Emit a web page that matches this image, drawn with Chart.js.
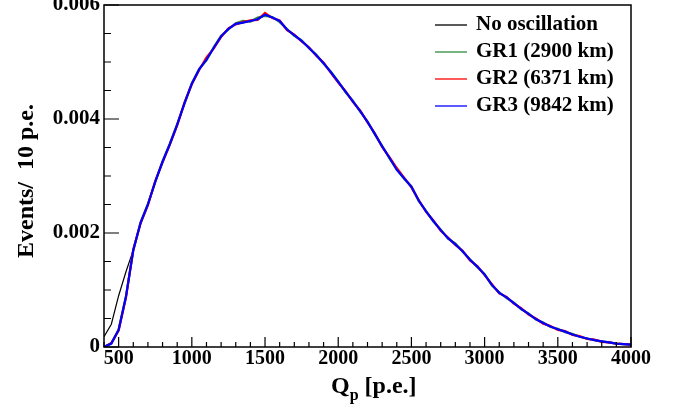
<!DOCTYPE html>
<html>
<head>
<meta charset="utf-8">
<script src="https://cdn.jsdelivr.net/npm/chart.js@4.4.1/dist/chart.umd.min.js"></script>
<style>
  html, body { margin: 0; padding: 0; background: #fff; }
  #wrap { width: 678px; height: 417px; }
</style>
</head>
<body>
<div id="wrap"><canvas id="qp-chart"></canvas></div>
<script>
// Q_p bin centres (p.e.)
var qValues = [400, 450, 500, 550, 600, 650, 700, 750, 800, 850,
  900, 950, 1000, 1050, 1100, 1150, 1200, 1250, 1300, 1350,
  1400, 1450, 1500, 1550, 1600, 1650, 1700, 1750, 1800, 1850,
  1900, 1950, 2000, 2050, 2100, 2150, 2200, 2250, 2300, 2350,
  2400, 2450, 2500, 2550, 2600, 2650, 2700, 2750, 2800, 2850,
  2900, 2950, 3000, 3050, 3100, 3150, 3200, 3250, 3300, 3350,
  3400, 3450, 3500, 3550, 3600, 3650, 3700, 3750, 3800, 3850,
  3900, 3950, 4000];

var noOsc = [0.00018, 0.00040, 0.00090, 0.00132, 0.00170, 0.00218, 0.00250, 0.00290, 0.00325, 0.00356,
  0.00390, 0.00428, 0.00462, 0.00487, 0.00504, 0.00525, 0.00545, 0.00558, 0.00567, 0.00569,
  0.00572, 0.00575, 0.00582, 0.00578, 0.00572, 0.00557, 0.00547, 0.00537, 0.00525, 0.00512,
  0.00498, 0.00482, 0.00465, 0.00448, 0.00431, 0.00414, 0.00395, 0.00374, 0.00352, 0.00332,
  0.00311, 0.00296, 0.00281, 0.00257, 0.00238, 0.00221, 0.00205, 0.00191, 0.00180, 0.00168,
  0.00153, 0.00141, 0.00127, 0.00109, 0.00095, 0.00087, 0.00077, 0.00067, 0.00058, 0.00049,
  0.00042, 0.00036, 0.00031, 0.00027, 0.00022, 0.00018, 0.00015, 0.00012, 0.00010, 0.00008,
  0.00006, 0.00005, 0.00004];

var gr1 = [0.00000, 0.00006, 0.00031, 0.00089, 0.00169, 0.00219, 0.00251, 0.00289, 0.00326, 0.00357,
  0.00391, 0.00427, 0.00463, 0.00488, 0.00503, 0.00526, 0.00546, 0.00557, 0.00568, 0.00572,
  0.00571, 0.00578, 0.00581, 0.00579, 0.00570, 0.00558, 0.00546, 0.00538, 0.00524, 0.00513,
  0.00497, 0.00483, 0.00466, 0.00447, 0.00432, 0.00413, 0.00396, 0.00373, 0.00353, 0.00331,
  0.00312, 0.00295, 0.00282, 0.00256, 0.00239, 0.00220, 0.00206, 0.00190, 0.00182, 0.00167,
  0.00154, 0.00140, 0.00128, 0.00108, 0.00096, 0.00086, 0.00078, 0.00066, 0.00059, 0.00048,
  0.00043, 0.00035, 0.00032, 0.00026, 0.00023, 0.00018, 0.00015, 0.00012, 0.00010, 0.00008,
  0.00006, 0.00005, 0.00004];

var gr2 = [0.00000, 0.00007, 0.00029, 0.00087, 0.00171, 0.00217, 0.00249, 0.00291, 0.00324, 0.00355,
  0.00389, 0.00429, 0.00461, 0.00486, 0.00508, 0.00524, 0.00544, 0.00559, 0.00566, 0.00570,
  0.00573, 0.00574, 0.00586, 0.00577, 0.00573, 0.00556, 0.00548, 0.00536, 0.00526, 0.00511,
  0.00499, 0.00481, 0.00464, 0.00449, 0.00430, 0.00415, 0.00394, 0.00375, 0.00351, 0.00333,
  0.00314, 0.00297, 0.00280, 0.00258, 0.00237, 0.00222, 0.00204, 0.00192, 0.00179, 0.00169,
  0.00152, 0.00142, 0.00126, 0.00110, 0.00094, 0.00088, 0.00076, 0.00068, 0.00057, 0.00050,
  0.00041, 0.00037, 0.00030, 0.00028, 0.00021, 0.00019, 0.00014, 0.00013, 0.00009, 0.00008,
  0.00006, 0.00005, 0.00004];

var gr3 = [0.00000, 0.00006, 0.00030, 0.00088, 0.00170, 0.00218, 0.00250, 0.00290, 0.00325, 0.00356,
  0.00390, 0.00428, 0.00462, 0.00487, 0.00504, 0.00525, 0.00545, 0.00558, 0.00567, 0.00569,
  0.00572, 0.00575, 0.00583, 0.00578, 0.00572, 0.00557, 0.00547, 0.00537, 0.00525, 0.00512,
  0.00498, 0.00482, 0.00465, 0.00448, 0.00431, 0.00414, 0.00395, 0.00374, 0.00352, 0.00332,
  0.00311, 0.00296, 0.00281, 0.00257, 0.00238, 0.00221, 0.00205, 0.00191, 0.00180, 0.00168,
  0.00153, 0.00141, 0.00127, 0.00109, 0.00095, 0.00087, 0.00077, 0.00067, 0.00058, 0.00049,
  0.00042, 0.00036, 0.00031, 0.00027, 0.00022, 0.00018, 0.00015, 0.00012, 0.00010, 0.00008,
  0.00006, 0.00005, 0.00004];

var seriesLabels = ["No oscillation", "GR1 (2900 km)", "GR2 (6371 km)", "GR3 (9842 km)"];
var seriesColors = ["#000000", "#2e8b3a", "#ff0000", "#0000ff"];
var xTickValues = [500, 1000, 1500, 2000, 2500, 3000, 3500, 4000];
var yTickValues = [0, 0.002, 0.004, 0.006];

var serif = "'Liberation Serif', 'Times New Roman', serif";

function points(ys) {
  return qValues.map(function (q, i) { return { x: q, y: ys[i] }; });
}

// ROOT style frame, inward ticks, titles and legend
var rootFrame = {
  id: 'rootFrame',
  afterDraw: function (chart) {
    var ctx = chart.ctx;
    var a = chart.chartArea;
    var xs = chart.scales.x, ys = chart.scales.y;
    ctx.save();
    ctx.strokeStyle = '#000';
    ctx.lineWidth = 1.5;
    ctx.strokeRect(a.left, a.top, a.right - a.left, a.bottom - a.top);

    ctx.lineWidth = 1.2;
    ctx.beginPath();
    for (var q = 400; q <= 4000; q += 100) {
      var px = xs.getPixelForValue(q);
      var len = (q % 500 === 0) ? 10 : 5;
      ctx.moveTo(px, a.bottom);
      ctx.lineTo(px, a.bottom - len);
    }
    for (var v = 0; v <= 0.0060001; v += 0.0005) {
      var py = ys.getPixelForValue(v);
      var major = Math.abs(v / 0.002 - Math.round(v / 0.002)) < 1e-6;
      ctx.moveTo(a.left, py);
      ctx.lineTo(a.left + (major ? 15 : 7), py);
    }
    ctx.stroke();

    // axis titles
    ctx.fillStyle = '#000';
    ctx.font = 'bold 24px ' + serif;
    ctx.textBaseline = 'alphabetic';
    ctx.save();
    ctx.translate(33, 181);
    ctx.rotate(-Math.PI / 2);
    ctx.textAlign = 'center';
    ctx.fillText('Events/  10 p.e.', 0, 0);
    ctx.restore();

    ctx.textAlign = 'left';
    var tx = 331, ty = 393;
    ctx.fillText('Q', tx, ty);
    tx += ctx.measureText('Q').width;
    ctx.font = 'bold 16px ' + serif;
    ctx.fillText('p', tx, ty + 7);
    tx += ctx.measureText('p').width;
    ctx.font = 'bold 24px ' + serif;
    ctx.fillText(' [p.e.]', tx, ty);

    // legend
    ctx.font = 'bold 21px ' + serif;
    ctx.textBaseline = 'middle';
    chart.data.datasets.forEach(function (ds, i) {
      var ly = 25 + i * 27;
      ctx.strokeStyle = ds.borderColor;
      ctx.lineWidth = 1.3;
      ctx.beginPath();
      ctx.moveTo(435, ly);
      ctx.lineTo(467, ly);
      ctx.stroke();
      ctx.fillStyle = '#000';
      ctx.fillText(ds.label, 476, ly);
    });
    ctx.restore();
  }
};

new Chart(document.getElementById('qp-chart'), {
  type: 'line',
  data: {
    datasets: [
      { label: seriesLabels[0], data: points(noOsc), borderColor: seriesColors[0], borderWidth: 1.2, order: 3 },
      { label: seriesLabels[1], data: points(gr1), borderColor: seriesColors[1], borderWidth: 2.2, order: 2 },
      { label: seriesLabels[2], data: points(gr2), borderColor: seriesColors[2], borderWidth: 2.2, order: 1 },
      { label: seriesLabels[3], data: points(gr3), borderColor: seriesColors[3], borderWidth: 2.2, order: 0 }
    ]
  },
  options: {
    responsive: true,
    maintainAspectRatio: false,
    animation: false,
    devicePixelRatio: 1,
    layout: { padding: { top: 5, right: 47, left: 0, bottom: 0 } },
    elements: { point: { radius: 0 }, line: { tension: 0 } },
    plugins: { legend: { display: false }, tooltip: { enabled: false } },
    scales: {
      x: {
        type: 'linear',
        min: 400,
        max: 4000,
        grid: { display: false },
        border: { display: false },
        afterBuildTicks: function (s) { s.ticks = xTickValues.map(function (v) { return { value: v }; }); },
        afterFit: function (s) { s.height = 70; s.paddingLeft = 0; s.paddingRight = 0; },
        ticks: {
          color: '#000',
          padding: -8,
          maxRotation: 0,
          autoSkip: false,
          font: { family: serif, size: 20, weight: 'bold' },
          callback: function (v) { return String(v); }
        }
      },
      y: {
        min: 0,
        max: 0.006,
        grid: { display: false },
        border: { display: false },
        afterBuildTicks: function (s) { s.ticks = yTickValues.map(function (v) { return { value: v }; }); },
        afterFit: function (s) { s.width = 104; s.paddingTop = 0; s.paddingBottom = 0; },
        ticks: {
          color: '#000',
          padding: -4,
          font: { family: serif, size: 21, weight: 'bold' },
          callback: function (v) { return v === 0 ? '0' : v.toFixed(3); }
        }
      }
    }
  },
  plugins: [rootFrame]
});
</script>
</body>
</html>
